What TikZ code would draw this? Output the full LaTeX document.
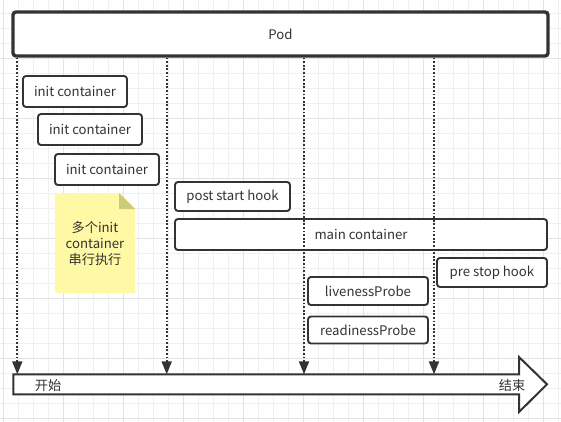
\documentclass[tikz,border=0pt]{standalone}
\usepackage{fontspec}
\setmainfont{Noto Sans CJK SC}
\usepackage{tikz}
\usetikzlibrary{positioning,arrows.meta}
\definecolor{ln}{HTML}{333333}
\definecolor{notefill}{HTML}{FFF9A6}
\definecolor{notefold}{HTML}{CDCA78}
\tikzstyle{b} = [rectangle, draw=ln, line width=1.9pt, rounded corners=3pt, fill=white, text=ln, inner sep=0pt, font=\fontsize{13.2}{15}\selectfont]
\tikzstyle{v} = [draw=ln, line width=1.8pt, dash pattern=on 1.8pt off 1.8pt, -{Triangle[width=10pt,length=13pt]}]

\begin{document}
\begin{tikzpicture}[x=1pt,y=-1pt]
\useasboundingbox (0,0) rectangle (561,422);
\foreach \i in {0,...,37} \draw[color=black!6, line width=0.8pt] (3.3+15*\i,0) -- (3.3+15*\i,422);
\foreach \i in {0,...,28} \draw[color=black!6, line width=0.8pt] (0,-1.7+15*\i) -- (561,-1.7+15*\i);
\foreach \i in {0,...,9} \draw[color=black!11, line width=0.8pt] (3.3+60*\i,0) -- (3.3+60*\i,422);
\foreach \i in {0,...,7} \draw[color=black!11, line width=0.8pt] (0,-1.7+60*\i) -- (561,-1.7+60*\i);
\node[b, line width=3.4pt, minimum width=535pt, minimum height=44pt] (pod) at (280.5,34) {Pod};
\node[b, minimum width=104pt, minimum height=31pt] (i1) at (75,91.5) {init container};
\node[b, minimum width=104pt, minimum height=31pt] (i2) at (90,129.5) {init container};
\node[b, minimum width=104pt, minimum height=31pt] (i3) at (107,169.5) {init container};
\node[b, minimum width=115pt, minimum height=29pt] (post) at (232.5,196.5) {post start hook};
\node[b, minimum width=372pt, minimum height=31pt] (main) at (361,234.5) {main container};
\node[b, minimum width=110pt, minimum height=29pt] (pre) at (492,272.5) {pre stop hook};
\node[b, minimum width=120pt, minimum height=28pt] (live) at (368,291) {livenessProbe};
\node[b, minimum width=120pt, minimum height=27pt] (ready) at (368,330) {readinessProbe};
\fill[notefill] (55,193) -- (119,193) -- (135,209) -- (135,293) -- (55,293) -- cycle;
\fill[notefold] (119,193) -- (135,209) -- (119,209) -- cycle;
\node[align=center, text=ln, font=\fontsize{13.2}{16}\selectfont] (note) at (95,243) {多个init\\container\\串行执行};
\draw[draw=ln, line width=2pt, fill=white] (13.3,374.3) -- (519,374.3) -- (519,357) -- (547,384.3) -- (519,412) -- (519,394.3) -- (13.3,394.3) -- cycle;
\node[text=ln, font=\fontsize{13.2}{15}\selectfont] (start) at (48,385) {开始};
\node[text=ln, font=\fontsize{13.2}{15}\selectfont] (end) at (512,385) {结束};
\coordinate (t1) at (17.3,374.3);
\coordinate (t2) at (166.7,374.3);
\coordinate (t3) at (304,374.3);
\coordinate (t4) at (434,374.3);
\draw[v] (pod.south -| t1) -- (t1);
\draw[v] (pod.south -| t2) -- (t2);
\draw[v] (pod.south -| t3) -- (t3);
\draw[v] (pod.south -| t4) -- (t4);
\end{tikzpicture}
\end{document}
